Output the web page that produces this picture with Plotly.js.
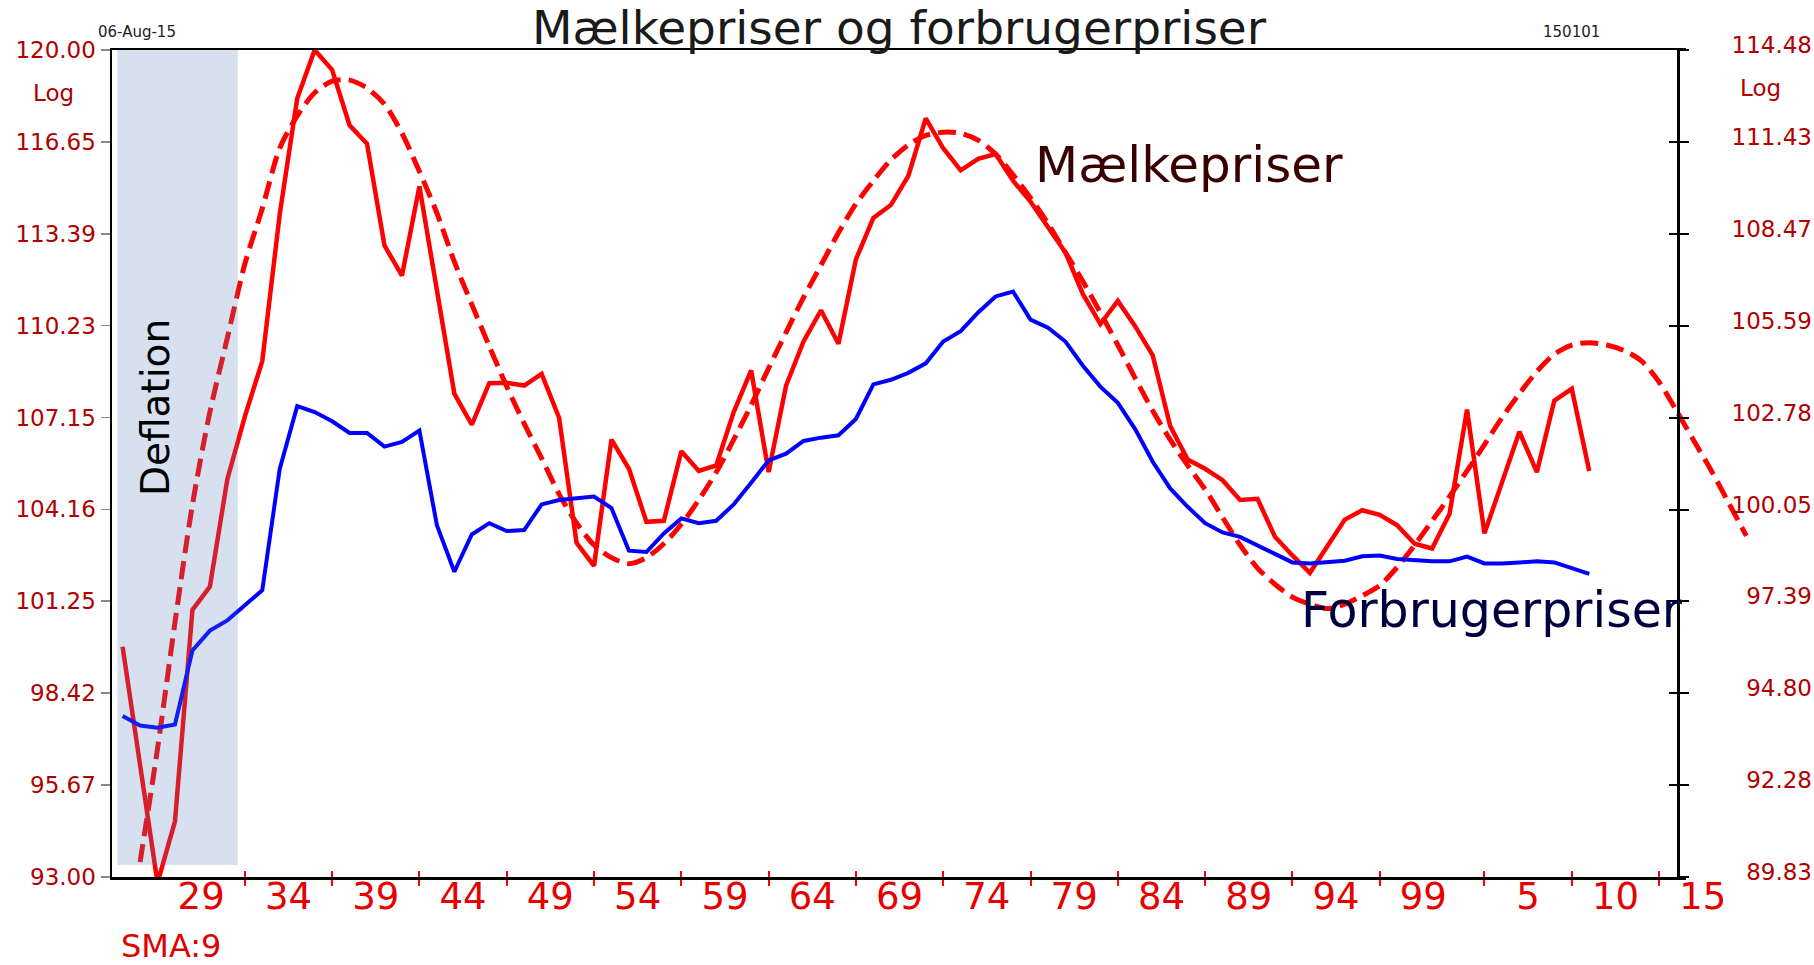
<!DOCTYPE html>
<html>
<head>
<meta charset="utf-8">
<script src="https://cdn.plot.ly/plotly-3.0.1.min.js"></script>
<style>
  html, body { margin: 0; padding: 0; background: #ffffff; }
  #chart { width: 1814px; height: 965px; }
</style>
</head>
<body>
<div id="chart"></div>
<script>
// ---------------- DATA ----------------
const years = [1925,1926,1927,1928,1929,1930,1931,1932,1933,1934,
  1935,1936,1937,1938,1939,1940,1941,1942,1943,1944,
  1945,1946,1947,1948,1949,1950,1951,1952,1953,1954,
  1955,1956,1957,1958,1959,1960,1961,1962,1963,1964,
  1965,1966,1967,1968,1969,1970,1971,1972,1973,1974,
  1975,1976,1977,1978,1979,1980,1981,1982,1983,1984,
  1985,1986,1987,1988,1989,1990,1991,1992,1993,1994,
  1995,1996,1997,1998,1999,2000,2001,2002,2003,2004,
  2005,2006,2007,2008,2009];

// Mælkepriser (left axis, log)
const milkPrices = [99.84,96.31,92.83,94.61,100.98,101.71,105.13,107.18,109.03,114.08,
  118.22,120.00,119.27,117.25,116.58,112.98,111.94,115.06,111.46,107.94,
  106.91,108.29,108.30,108.21,108.60,107.14,103.09,102.36,106.42,105.47,
  103.76,103.79,106.04,105.40,105.58,107.33,108.72,105.36,108.21,109.69,
  110.75,109.61,112.50,113.95,114.40,115.43,117.50,116.42,115.63,116.04,
  116.21,115.26,114.52,113.63,112.74,111.30,110.28,111.07,110.20,109.22,
  106.87,105.77,105.47,105.10,104.46,104.50,103.28,102.69,102.14,102.98,
  103.83,104.13,103.98,103.65,103.06,102.91,104.02,107.41,103.39,105.02,
  106.68,105.36,107.71,108.10,105.40];

// Forbrugerpriser (right axis, log)
const consumerPrices = [94.17,93.91,93.85,93.94,96.00,96.56,96.85,97.28,97.71,101.25,
  103.13,102.95,102.67,102.32,102.32,101.91,102.05,102.39,99.59,98.24,
  99.32,99.65,99.42,99.45,100.20,100.33,100.37,100.43,100.09,98.85,
  98.81,99.35,99.79,99.65,99.72,100.20,100.84,101.50,101.70,102.08,
  102.18,102.25,102.74,103.79,103.93,104.14,104.43,105.10,105.42,106.00,
  106.50,106.65,105.78,105.53,105.10,104.36,103.72,103.23,102.43,101.46,
  100.67,100.13,99.65,99.38,99.25,99.01,98.78,98.51,98.48,98.51,
  98.56,98.69,98.71,98.61,98.58,98.54,98.54,98.68,98.48,98.48,
  98.51,98.54,98.51,98.34,98.18];

// Cycle (dashed) for Mælkepriser, left axis
const cycleYears = [1926,1927,1928,1929,1930,1931,1932,1933,1934,
  1935,1936,1937,1938,1939,1940,1941,1942,1943,1944,
  1945,1946,1947,1948,1949,1950,1951,1952,1953,1954,
  1955,1956,1957,1958,1959,1960,1961,1962,1963,1964,
  1965,1966,1967,1968,1969,1970,1971,1972,1973,1974,
  1975,1976,1977,1978,1979,1980,1981,1982,1983,1984,
  1985,1986,1987,1988,1989,1990,1991,1992,1993,1994,
  1995,1996,1997,1998,1999,2000,2001,2002,2003,2004,
  2005,2006,2007,2008,2009,2010,2011,2012,2013,2014,
  2015,2016,2017,2018];
const cycleValues = [93.43,96.75,100.59,104.31,107.33,109.81,112.34,114.28,116.42,
  117.59,118.43,118.85,118.89,118.60,118.01,116.96,115.59,114.12,112.42,
  110.95,109.53,108.18,106.95,105.81,104.65,103.72,103.02,102.62,102.43,
  102.62,103.06,103.68,104.46,105.36,106.42,107.56,108.79,110.00,111.19,
  112.30,113.43,114.44,115.26,116.00,116.54,116.88,117.00,116.96,116.71,
  116.21,115.47,114.65,113.75,112.74,111.74,110.67,109.57,108.45,107.37,
  106.42,105.58,104.80,103.90,103.02,102.29,101.78,101.38,101.16,101.02,
  101.16,101.42,101.74,102.32,103.02,103.79,104.57,105.40,106.26,107.14,
  107.94,108.68,109.26,109.57,109.65,109.57,109.38,109.03,108.33,107.37,
  106.38,105.40,104.35,103.31];

// Axis ticks / labels
const leftTicks  = [93.00,95.67,98.42,101.25,104.16,107.15,110.23,113.39,116.65,120.00];
const rightTicks = [89.83,92.28,94.80,97.39,100.05,102.78,105.59,108.47,111.43,114.48];
const xLabelYears = [1929,1934,1939,1944,1949,1954,1959,1964,1969,1974,1979,1984,1989,1994,1999,2005,2010,2015];
const xLabelText  = ["29","34","39","44","49","54","59","64","69","74","79","84","89","94","99","5","10","15"];
const xTickYears  = [1932,1937,1942,1947,1952,1957,1962,1967,1972,1977,1982,1987,1992,1997,2003,2008,2013];

// Deflation period
const deflationStart = 1924.7;
const deflationEnd = 1931.6;

// ---------------- LAYOUT GEOMETRY ----------------
const W = 1814, H = 965;
const plotLeft = 112, axisRight = 1678, frameRight = 1686, dataRight = 1800, rightLabelEnd = 1812;
const plotTop = 50, plotBottom = 877;
const pxPerYear = 17.46, refPx = 122.6, refYear = 1925;
const yearAt = px => refYear + (px - refPx) / pxPerYear;
const px2paperX = px => px / W;
const px2paperY = py => (plotBottom - py) / (plotBottom - plotTop);

const FONT = "DejaVu Sans";
const red = "#ff0000";
const darkRed = "#b00000";

const empty = ax => ({ x: [], y: [], xaxis: ax[0], yaxis: ax[1], type: "scatter", mode: "lines", hoverinfo: "skip", showlegend: false });

const traces = [
  {
    x: years, y: consumerPrices, xaxis: "x", yaxis: "y2",
    type: "scatter", mode: "lines",
    line: { color: "#0000ff", width: 4 },
    hoverinfo: "skip", showlegend: false
  },
  {
    x: years, y: milkPrices, xaxis: "x", yaxis: "y",
    type: "scatter", mode: "lines",
    line: { color: red, width: 4.5 },
    hoverinfo: "skip", showlegend: false
  },
  {
    x: cycleYears, y: cycleValues, xaxis: "x", yaxis: "y",
    type: "scatter", mode: "lines",
    line: { color: red, width: 5, dash: "18px,8px", shape: "spline", smoothing: 0.8 },
    hoverinfo: "skip", showlegend: false
  },
  empty(["x2", "y"]),
  empty(["x3", "y"]),
  empty(["x", "y3"]),
  empty(["x", "y4"])
];

function note(text, px, py, size, color, extra) {
  return Object.assign({
    text: text, x: px2paperX(px), y: px2paperY(py), xref: "paper", yref: "paper",
    xanchor: "center", yanchor: "middle", showarrow: false,
    font: { family: FONT, size: size, color: color }
  }, extra || {});
}

const annotations = [
  note("06-Aug-15", 137, 32, 15, "#222222"),
  note("150101", 1571, 32, 15, "#222222"),
  note("Log", 53, 93, 23, darkRed),
  note("Log", 1760, 88, 23, darkRed),
  note("SMA:9", 171, 946, 32, "#e00000"),
  note("Mælkepriser", 1189, 165, 50, "#3a0000"),
  note("Forbrugerpriser", 1492, 610, 49, "#000040"),
  note("Deflation", 156, 408, 39, "#000000", { textangle: -90 })
];

const frameRange = [yearAt(plotLeft), yearAt(frameRight)];
const rightRange = [Math.log10(89.83), Math.log10(114.48)];
const rightTickText = rightTicks.map(v => v.toFixed(2));

const layout = {
  width: W, height: H,
  paper_bgcolor: "#ffffff", plot_bgcolor: "rgba(0,0,0,0)",
  margin: { l: 0, r: 0, t: plotTop, b: H - plotBottom, pad: 0 },
  showlegend: false,
  title: {
    text: "Mælkepriser og forbrugerpriser",
    x: 899 / W, xanchor: "center", xref: "paper",
    y: 1 - 28 / H, yanchor: "middle", yref: "container",
    font: { family: FONT, size: 47, color: "#1a1a1a" }
  },
  // data axis (extends past the right frame so the projected cycle stays visible) carrying the year labels
  xaxis: {
    domain: [plotLeft / W, dataRight / W],
    range: [yearAt(plotLeft), yearAt(dataRight)],
    anchor: "free", position: px2paperY(871),
    showline: false, showgrid: false, zeroline: false,
    tickmode: "array",
    tickvals: xLabelYears.map(v => v + 0.5),
    ticktext: xLabelText,
    ticks: "", ticklabelstandoff: 0,
    tickfont: { family: FONT, size: 37, color: "#e60000" },
    fixedrange: true
  },
  // frame axis: bottom + top line, red ticks below the line
  xaxis2: {
    domain: [plotLeft / W, frameRight / W],
    range: frameRange,
    anchor: "y",
    showline: true, linecolor: "#000000", linewidth: 2.5, mirror: true,
    showgrid: false, zeroline: false,
    tickmode: "array", tickvals: xTickYears,
    ticks: "outside", ticklen: 6, tickwidth: 2, tickcolor: red,
    showticklabels: false,
    fixedrange: true
  },
  // red ticks above the bottom line
  xaxis3: {
    domain: [plotLeft / W, frameRight / W],
    range: frameRange,
    anchor: "y",
    showline: false, showgrid: false, zeroline: false,
    tickmode: "array", tickvals: xTickYears,
    ticks: "inside", ticklen: 6, tickwidth: 2, tickcolor: red,
    showticklabels: false,
    fixedrange: true
  },
  yaxis: {
    type: "log",
    domain: [0, 1],
    range: [Math.log10(93), Math.log10(120)],
    anchor: "x2",
    showline: true, linecolor: "#000000", linewidth: 2.5,
    showgrid: false, zeroline: false,
    tickmode: "array", tickvals: leftTicks, ticktext: leftTicks.map(v => v.toFixed(2)),
    ticks: "outside", ticklen: 9, tickwidth: 1.5, tickcolor: "#8a8a8a",
    tickfont: { family: FONT, size: 23, color: darkRed },
    fixedrange: true
  },
  // right axis line with black ticks (outer half)
  yaxis2: {
    type: "log",
    overlaying: "y", side: "right",
    anchor: "free", position: axisRight / W,
    range: rightRange,
    showline: true, linecolor: "#000000", linewidth: 2.5,
    showgrid: false, zeroline: false,
    tickmode: "array", tickvals: rightTicks,
    ticks: "outside", ticklen: 9, tickwidth: 2, tickcolor: "#000000",
    showticklabels: false,
    fixedrange: true
  },
  // right axis labels, right-aligned at the figure edge
  yaxis3: {
    type: "log",
    overlaying: "y", side: "left",
    anchor: "free", position: rightLabelEnd / W,
    range: rightRange,
    showline: false, showgrid: false, zeroline: false,
    tickmode: "array", tickvals: rightTicks, ticktext: rightTickText,
    ticks: "", ticklabelshift: -5,
    tickfont: { family: FONT, size: 23, color: darkRed },
    fixedrange: true
  },
  // inner half of the right ticks
  yaxis4: {
    type: "log",
    overlaying: "y", side: "right",
    anchor: "free", position: axisRight / W,
    range: rightRange,
    showline: false, showgrid: false, zeroline: false,
    tickmode: "array", tickvals: rightTicks,
    ticks: "inside", ticklen: 9, tickwidth: 2, tickcolor: "#000000",
    showticklabels: false,
    fixedrange: true
  },
  shapes: [
    { type: "rect", layer: "above", xref: "x", yref: "paper",
      x0: deflationStart, x1: deflationEnd, y0: px2paperY(865), y1: 1,
      fillcolor: "rgb(84,125,184)", opacity: 0.24, line: { width: 0 } }
  ],
  annotations: annotations
};

Plotly.newPlot("chart", traces, layout, { staticPlot: true, displayModeBar: false });
</script>
</body>
</html>
